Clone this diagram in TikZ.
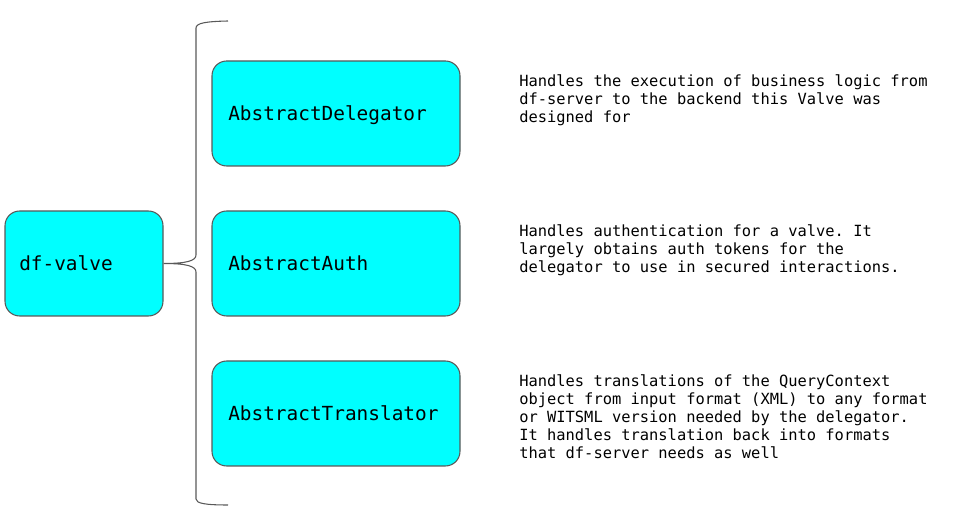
\documentclass[tikz,border=0pt]{standalone}
\usepackage{fontspec}
\setmonofont{DejaVu Sans Mono}
\begin{document}
\begin{tikzpicture}[x=0.75pt,y=-0.75pt,
  compbox/.style={draw=edgegrey, line width=0.8pt, fill=aqua, rounded corners=11pt,
    minimum width=248*0.75pt, minimum height=105*0.75pt, inner sep=0pt},
  rootbox/.style={compbox, minimum width=158*0.75pt},
  boxlabel/.style={font=\ttfamily\fontsize{14.55}{17}\selectfont, inner sep=0pt, anchor=base west},
  desc/.style={font=\ttfamily\fontsize{11.56}{13.5}\selectfont, align=left, inner sep=0pt, anchor=north west},
  bracket/.style={draw=edgegrey, line width=0.8pt}]
\definecolor{aqua}{HTML}{00FFFF}
\definecolor{edgegrey}{HTML}{595959}
\useasboundingbox (0,0) rectangle (965,523);

% boxes
\node[rootbox] (valve) at (84,263.5) {};
\node[compbox] (deleg) at (336,113.5) {};
\node[compbox] (auth) at (336,263.5) {};
\node[compbox] (trans) at (336,413.5) {};

% box labels
\node[boxlabel] (valvet) at (19,270.5) {df-valve};
\node[boxlabel] (delegt) at (228,120.5) {AbstractDelegator};
\node[boxlabel] (autht) at (228,270.5) {AbstractAuth};
\node[boxlabel] (transt) at (228,420.5) {AbstractTranslator};

% curly bracket from the root box to the three components
\coordinate (btop) at (228,21);
\coordinate (bbot) at (228,505);
\draw[bracket] (btop) .. controls (206,21.5) and (196,23) .. (196,28)
  -- (196,255) .. controls (196,261) and (186,263.5) .. (valve.east)
  .. controls (186,263.5) and (196,266) .. (196,272)
  -- (196,499) .. controls (196,503.5) and (206,505) .. (bbot);

% descriptions
\node[desc] (d1) at (519,74.3) {Handles the execution of business logic from\\df-server to the backend this Valve was\\designed for};
\node[desc] (d2) at (519,224.3) {Handles authentication for a valve. It\\largely obtains auth tokens for the\\delegator to use in secured interactions.};
\node[desc] (d3) at (519,374.3) {Handles translations of the QueryContext\\object from input format (XML) to any format\\or WITSML version needed by the delegator.\\It handles translation back into formats\\that df-server needs as well};
\end{tikzpicture}
\end{document}
